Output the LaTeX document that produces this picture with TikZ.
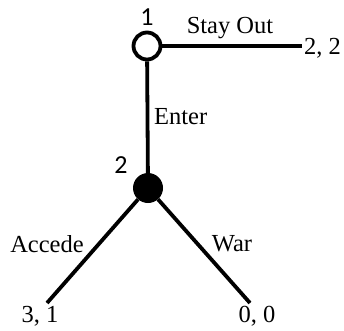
\documentclass[tikz,border=0pt]{standalone}
\usepackage{fontspec}
\setmainfont{Liberation Serif}
\newfontfamily\numfont{Carlito}
\usetikzlibrary{positioning}

\begin{document}
\begin{tikzpicture}[x=1pt, y=-1pt, every node/.style={font=\fontsize{24.5}{27}\selectfont, inner sep=0pt},
                    branch/.style={line width=3.8pt},
                    opennode/.style={circle, draw, line width=3.8pt, fill=white, minimum size=27pt},
                    fullnode/.style={circle, fill=black, minimum size=30pt},
                    player/.style={font=\fontsize{26}{28}\selectfont\numfont}]
        \useasboundingbox (0,0) rectangle (344,330);

        \node (p1) [opennode] at (147,46) {};
        \node (p2) [fullnode] at (148,188) {};
        \coordinate (stayend) at (302,46);
        \coordinate (accend) at (47,303);
        \coordinate (warend) at (250,303);

        \draw[branch] (p1) -- (stayend);
        \draw[branch] (p1) -- (p2);
        \draw[branch] (p2) -- (accend);
        \draw[branch] (p2) -- (warend);

        \node (l1) [player] at (147,17) {1};
        \node (l2) [player] at (121,165) {2};
        \node (stay) at (230,28) {Stay Out};
        \node (enter) [anchor=west] at (154,117) {Enter};
        \node (acc) at (47,244) {Accede};
        \node (war) at (232,244) {War};

        \node (pay1) [anchor=west] at (304,48) {2, 2};
        \node (pay2) at (40,316) {3, 1};
        \node (pay3) at (257,316) {0, 0};
    \end{tikzpicture}
\end{document}
